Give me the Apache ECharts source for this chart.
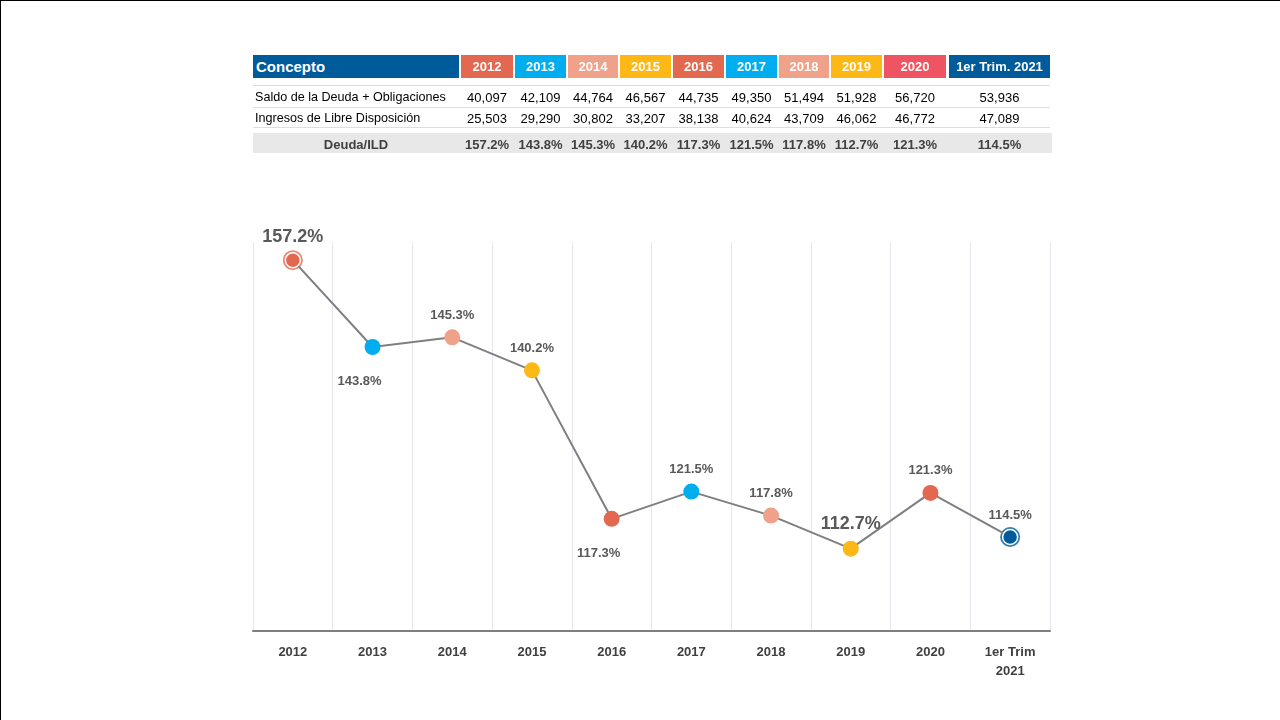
<!DOCTYPE html>
<html>
<head>
<meta charset="utf-8">
<script src="https://cdn.jsdelivr.net/npm/echarts@6/dist/echarts.min.js"></script>
<style>
html,body{margin:0;padding:0;background:#fff;}
#wrap{position:relative;width:1280px;height:720px;overflow:hidden;font-family:"Liberation Sans",Arial,sans-serif;}
#chart{position:absolute;left:0;top:0;width:1280px;height:720px;}
#frame{position:absolute;left:0;top:0;width:1280px;height:720px;box-sizing:border-box;border-top:1px solid #000;border-left:1px solid #000;pointer-events:none;}
.cell{position:absolute;box-sizing:border-box;display:flex;align-items:center;justify-content:center;white-space:nowrap;}
.hline{position:absolute;height:1px;background:#d9dfe8;}
</style>
</head>
<body>
<div id="wrap">
<div id="chart"></div>
<div id="table"></div>
<div id="frame"></div>
</div>
<script>
// ---- Data ----
var headerYears = ['2012','2013','2014','2015','2016','2017','2018','2019','2020','1er Trim. 2021'];
var headerColors = ['#E2694F','#00ADEE','#EFA18A','#FDB815','#E2694F','#00ADEE','#EFA18A','#FDB815','#EE5461','#005B9B'];
var rowLabels = ['Saldo de la Deuda + Obligaciones','Ingresos de Libre Disposición','Deuda/ILD'];
var saldoDeuda = ['40,097','42,109','44,764','46,567','44,735','49,350','51,494','51,928','56,720','53,936'];
var ingresosILD = ['25,503','29,290','30,802','33,207','38,138','40,624','43,709','46,062','46,772','47,089'];
var categories = ['2012','2013','2014','2015','2016','2017','2018','2019','2020','1er Trim\n2021'];
var deudaILD = [157.2, 143.8, 145.3, 140.2, 117.3, 121.5, 117.8, 112.7, 121.3, 114.5];
var pointColors = ['#E2694F','#00ADEE','#EFA18A','#FDB815','#E2694F','#00ADEE','#EFA18A','#FDB815','#E2694F','#005B9B'];

// ---- Table (HTML) ----
var colL = [461,515,568,620,673,726,779,831,884,949];
var colW = [52,51,50,51,51,51,50,51,62,101];
var t = document.getElementById('table');
function add(html){ t.insertAdjacentHTML('beforeend', html); }
add('<div class="cell" style="left:253px;top:55px;width:206px;height:23px;background:#005B9B;color:#fff;font-weight:bold;font-size:15px;justify-content:flex-start;padding-left:3px;">Concepto</div>');
headerYears.forEach(function(y,i){
  add('<div class="cell" style="left:'+colL[i]+'px;top:55px;width:'+colW[i]+'px;height:23px;background:'+headerColors[i]+';color:#fff;font-weight:bold;font-size:13px;">'+y+'</div>');
});
add('<div class="hline" style="left:253px;top:85px;width:797px;"></div>');
add('<div class="hline" style="left:253px;top:107px;width:797px;"></div>');
add('<div class="hline" style="left:253px;top:127px;width:797px;"></div>');
add('<div style="position:absolute;left:253px;top:133px;width:799px;height:20px;background:#e8e8e8;"></div>');
add('<div class="cell" style="left:253px;top:87px;width:206px;height:20px;justify-content:flex-start;padding-left:2px;font-size:12.6px;color:#000;">'+rowLabels[0]+'</div>');
add('<div class="cell" style="left:253px;top:108px;width:206px;height:20px;justify-content:flex-start;padding-left:2px;font-size:12.6px;color:#000;">'+rowLabels[1]+'</div>');
add('<div class="cell" style="left:253px;top:134px;width:206px;height:20px;font-weight:bold;font-size:13px;color:#404040;">'+rowLabels[2]+'</div>');
for (var i=0;i<headerYears.length;i++){
  add('<div class="cell" style="left:'+colL[i]+'px;top:87px;width:'+colW[i]+'px;height:20px;font-size:13px;color:#000;">'+saldoDeuda[i]+'</div>');
  add('<div class="cell" style="left:'+colL[i]+'px;top:108px;width:'+colW[i]+'px;height:20px;font-size:13px;color:#000;">'+ingresosILD[i]+'</div>');
  add('<div class="cell" style="left:'+colL[i]+'px;top:134px;width:'+colW[i]+'px;height:20px;font-size:13px;font-weight:bold;color:#404040;">'+deudaILD[i].toFixed(1)+'%</div>');
}

// ---- Chart ----
var labelCfg = [
  {position:'top', distance:6, fontSize:18},
  {position:'bottom', distance:20, offset:[-13,0]},
  {position:'top', distance:7},
  {position:'top', distance:7},
  {position:'bottom', distance:20, offset:[-13,0]},
  {position:'top', distance:8},
  {position:'top', distance:8},
  {position:'top', distance:8, fontSize:18},
  {position:'top', distance:8},
  {position:'top', distance:7}
];
var lineData = deudaILD.map(function(v,i){
  var ring = (i===0 || i===deudaILD.length-1);
  var lc = labelCfg[i];
  return {
    value: v,
    symbolSize: ring ? 15 : 16,
    itemStyle: {color: pointColors[i], borderColor: ring ? '#fff' : pointColors[i], borderWidth: ring ? 1.5 : 0},
    label: {show:true, position: lc.position, distance: lc.distance, offset: lc.offset || [0,0], fontSize: lc.fontSize || 13}
  };
});
var ringData = deudaILD.map(function(v,i){
  return (i===0 || i===deudaILD.length-1) ? {value:v, itemStyle:{color:pointColors[i]}} : '-';
});

var chart = echarts.init(document.getElementById('chart'), null, {renderer:'canvas'});
chart.setOption({
  animation:false,
  grid:{left:253, right:230, top:242, bottom:89},
  xAxis:{
    type:'category', data:categories, boundaryGap:true,
    axisLine:{lineStyle:{color:'#7f7f7f', width:2}},
    axisTick:{show:false},
    axisLabel:{color:'#404040', fontWeight:'bold', fontSize:13, margin:12, lineHeight:19, fontFamily:'Liberation Sans, Arial, sans-serif'},
    splitLine:{show:true, lineStyle:{color:'#e6e6f2', width:1}}
  },
  yAxis:{type:'value', min:100, max:160, show:false, splitLine:{show:false}},
  series:[
    {
      type:'scatter', data:ringData, symbolSize:20, z:1, silent:true
    },
    {
      type:'line', data:lineData, z:3, symbol:'circle', showAllSymbol:true,
      lineStyle:{color:'#7f7f7f', width:2},
      label:{show:true, color:'#595959', fontWeight:'bold', fontFamily:'Liberation Sans, Arial, sans-serif',
        formatter:function(p){return p.value.toFixed(1)+'%';}}
    }
  ]
});
</script>
</body>
</html>
